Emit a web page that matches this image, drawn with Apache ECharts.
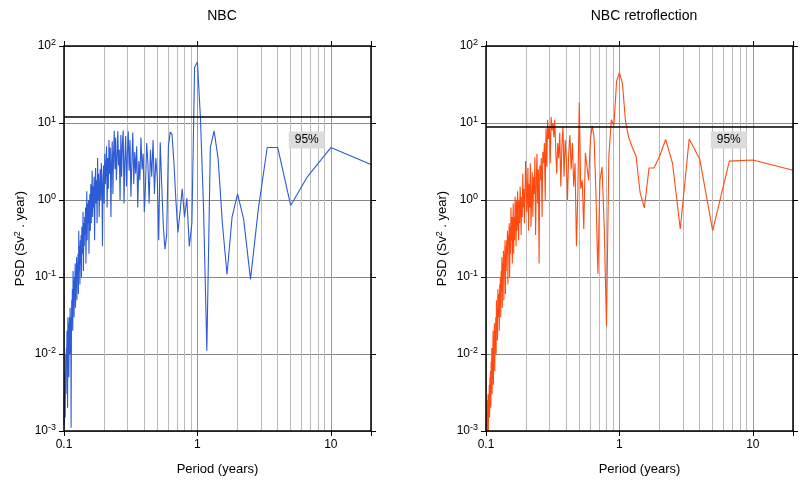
<!DOCTYPE html><html><head><meta charset="utf-8"><script src="https://cdn.jsdelivr.net/npm/echarts@6/dist/echarts.min.js"></script></head><body style="margin:0"><div id="c" style="width:800px;height:483px"></div><script>
// periods are 20/k years, k = 1..200
const nbcLow = [2.9,4.8,2.0,0.85,4.8,4.8,0.75,0.093,0.56,1.2,0.6,0.108,0.5,3.5,7.9,4.8,0.011,0.8,12,62,53,0.5,0.25,1.05,0.6,1.4,0.7,0.38,1.0,3.05,7.1,7.6,5.0,0.35,0.23,0.45,1.5,5.6,0.3,2.0];
const nbcHigh = [3.5,1.2,6.0,2.0,4.5,0.9,3.0,5.5,1.5,0.7,4.0,2.5,6.5,1.8,3.2,0.8,5.0,2.2,4.2,1.6,
7.5,3.0,1.1,6.0,2.4,7.8,4.0,1.5,6.8,3.3,0.9,8.0,5.5,2.0,7.0,1.0,4.5,2.8,7.8,3.6,
1.8,6.5,2.5,7.9,4.0,1.2,5.8,3.0,0.6,4.8,2.2,6.0,1.4,3.5,0.8,5.0,2.5,1.6,4.0,0.9,
2.8,1.5,0.25,2.0,3.0,1.0,2.5,1.4,0.6,2.2,1.0,3.5,0.5,1.8,0.9,2.6,1.2,0.3,2.0,0.8,
1.5,0.6,2.4,1.0,0.5,1.6,0.4,1.2,0.7,0.2,1.0,0.5,0.9,0.3,1.3,0.4,0.15,0.8,0.35,0.6,
0.25,0.5,0.12,0.7,0.3,0.2,0.45,0.1,0.35,0.15,0.3,0.08,0.25,0.12,0.4,0.06,0.2,0.1,0.15,0.05,
0.18,0.08,0.12,0.04,0.15,0.06,0.1,0.03,0.09,0.05,0.12,0.02,0.07,0.04,0.05,0.015,0.0011,0.03,0.02,0.04,
0.01,0.03,0.02,0.005,0.025,0.012,0.03,0.002,0.015,0.02,0.008,0.012,0.003,0.01,0.004,0.0015,0.006,0.002,0.003,0.0012];
const retLow = [2.44,3.3,3.2,0.4,3.4,6.2,0.42,3.0,6.1,3.7,2.6,2.6,0.79,1.25,3.7,4.8,6.4,10.5,33,45,35,9.3,11,3.7,0.023,0.45,2.7,1.8,0.11,1.25,6.7,9.2,6.1,1.8,2.7,4.1,0.42,1.8,1.4,18.5];
const retHigh = [1.2,0.25,3.0,1.5,5.5,2.5,7.0,4.0,1.0,3.5,6.0,2.0,9.0,5.0,1.5,7.5,3.5,5.5,2.2,4.2,
11,6.5,10,8,12,3.0,9,6.2,11,2.7,8.5,1.0,5.5,3.0,4.2,0.6,3.5,1.8,2.8,0.15,
2.5,0.9,4.0,1.5,0.35,3.6,1.2,2.0,0.6,2.3,1.0,0.45,3.0,0.8,1.6,0.4,2.6,1.1,0.7,1.9,
3.2,1.0,0.5,1.4,0.8,2.2,0.6,1.1,0.35,0.9,1.5,0.5,1.0,0.3,0.8,1.3,0.4,1.0,0.25,0.7,
1.1,0.3,0.6,0.2,0.9,0.4,0.15,0.6,0.3,0.8,0.2,0.45,0.1,0.5,0.25,0.35,0.08,0.4,0.2,0.3,
0.12,0.25,0.06,0.3,0.15,0.2,0.05,0.22,0.1,0.15,0.04,0.18,0.08,0.12,0.03,0.1,0.05,0.08,0.02,0.06,
0.05,0.03,0.07,0.015,0.04,0.02,0.05,0.01,0.03,0.012,0.02,0.006,0.025,0.01,0.015,0.004,0.02,0.008,0.01,0.003,
0.012,0.004,0.008,0.002,0.006,0.003,0.005,0.0015,0.004,0.002,0.003,0.001,0.003,0.0015,0.002,0.001,0.0025,0.0012,0.0018,0.001];
const thresholds = [12.1, 8.96];
const titles = ['NBC', 'NBC retroflection'];
const minorPeriods = [0.2,0.3,0.4,0.5,0.6,0.7,0.8,0.9,2,3,4,5,6,7,8,9];
const yTicks = {0.001:'-3',0.01:'-2',0.1:'-1',1:'0',10:'1',100:'2'};
const xTicks = {0.1:'0.1',1:'1',10:'10'};
const labelPos = [6.6, 6.0];

const toPts = v => v.map((y,i)=>[20/(i+1), y]);
const all = [nbcLow.concat(nbcHigh), retLow.concat(retHigh)];
const colors = ['#2c5bd4', '#ff4b12'];
const lefts = [64, 486];
const font = 'Liberation Sans';
const grids=[], xAxis=[], yAxis=[], series=[], title=[];
lefts.forEach((l,g)=>{
  grids.push({left:l, top:46, width:307, height:385, show:true, borderColor:'#000', borderWidth:1.5, backgroundColor:'transparent', z:5});
  title.push({text:titles[g], left:l+153, top:4, textAlign:'center', textStyle:{fontFamily:font, fontWeight:'normal', fontSize:14, color:'#000'}});
  xAxis.push({type:'log', logBase:10, min:0.1, max:20, gridIndex:g, name:'Period (years)', nameLocation:'middle', nameGap:32,
    nameTextStyle:{fontFamily:font, fontSize:13, color:'#000'},
    axisLine:{show:false}, axisTick:{length:5, lineStyle:{color:'#000'}},
    axisLabel:{fontFamily:font, fontSize:12, color:'#000', formatter:v=>xTicks[+(+v).toPrecision(3)]||''},
    splitLine:{show:true, lineStyle:{color:'#999', width:1}}});
  xAxis.push({type:'log', min:0.1, max:20, gridIndex:g, position:'top', axisLine:{show:false}, axisLabel:{show:false}, axisTick:{length:5, lineStyle:{color:'#000'}}, splitLine:{show:false}});
  yAxis.push({type:'log', min:0.001, max:100, gridIndex:g, name:'PSD (Sv{s|2} . year)', nameLocation:'middle', nameGap:36,
    nameTextStyle:{fontFamily:font, fontSize:13, color:'#000', rich:{s:{fontSize:9, verticalAlign:'top', padding:[0,0,6,0], fontFamily:font}}},
    axisLine:{show:false}, axisTick:{length:5, lineStyle:{color:'#000'}},
    axisLabel:{fontFamily:font, fontSize:12, color:'#000', formatter:v=>'10{s|'+yTicks[+(+v).toPrecision(3)]+'}', rich:{s:{fontSize:9, fontFamily:font, verticalAlign:'top', padding:[0,0,7,0]}}},
    splitLine:{show:true, lineStyle:{color:'#888', width:1}}});
  yAxis.push({type:'log', min:0.001, max:100, gridIndex:g, position:'right', axisLine:{show:false}, axisLabel:{show:false}, axisTick:{length:5, lineStyle:{color:'#000'}}, splitLine:{show:false}});
  // minor vertical grid lines (behind the data)
  series.push({type:'line', xAxisIndex:2*g, yAxisIndex:2*g, data:[], z:1,
    markLine:{silent:true, symbol:'none', animation:false, label:{show:false}, z:1,
      data:minorPeriods.map(p=>({xAxis:p, lineStyle:{color:'#bbb', width:1, type:'solid'}}))}});
  series.push({type:'line', xAxisIndex:2*g, yAxisIndex:2*g, data:toPts(all[g]), showSymbol:false, symbol:'none',
    lineStyle:{color:colors[g], width:1.1}, animation:false, z:3,
    markLine:{silent:true, symbol:'none', animation:false, label:{show:false},
      data:[{yAxis:thresholds[g], lineStyle:{color:'#000', width:1.5, type:'solid'}}]},
    markPoint:{silent:true, animation:false, symbol:'rect', symbolSize:[36,17], itemStyle:{color:'#dcdcdc'},
      label:{show:true, color:'#000', fontFamily:font, fontSize:12, formatter:'95%'},
      data:[{coord:labelPos}]}});
});
const ch = echarts.init(document.getElementById('c'), null, {renderer:'canvas'});
ch.setOption({animation:false, backgroundColor:'#fff', title, grid:grids, xAxis, yAxis, series});
</script></body></html>
